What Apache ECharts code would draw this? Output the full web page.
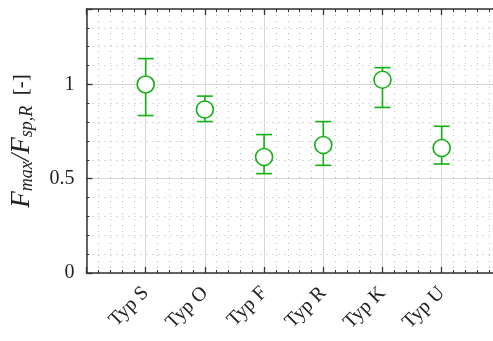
<!DOCTYPE html>
<html>
<head>
<meta charset="utf-8">
<script src="https://cdn.jsdelivr.net/npm/echarts@6/dist/echarts.min.js"></script>
<style>
html, body { margin: 0; padding: 0; background: #fff; overflow: hidden; width: 493px; height: 341px; }
#chart { width: 503px; height: 341px; }
</style>
</head>
<body>
<div id="chart"></div>
<script>
// Werte
var categories = ['Typ S', 'Typ O', 'Typ F', 'Typ R', 'Typ K', 'Typ U'];
var meanValues = [1.00, 0.867, 0.615, 0.679, 1.025, 0.663];
var lowerValues = [0.835, 0.803, 0.527, 0.571, 0.878, 0.578];
var upperValues = [1.137, 0.938, 0.734, 0.803, 1.089, 0.778];
var yTicks = [0, 0.5, 1];

var green = '#12b012';
var serif = '"Liberation Serif", "DejaVu Serif", serif';

var data = categories.map(function (c, i) {
    return [i + 1, meanValues[i], lowerValues[i], upperValues[i]];
});

var myChart = echarts.init(document.getElementById('chart'));

function renderErrorBar(params, api) {
    var x = api.value(0);
    var c = api.coord([x, api.value(1)]);
    var lo = api.coord([x, api.value(2)]);
    var hi = api.coord([x, api.value(3)]);
    var cap = 8;
    var r = 8.5;
    var st = { stroke: green, lineWidth: 1.6, fill: null };
    return {
        type: 'group',
        children: [
            { type: 'line', shape: { x1: c[0], y1: hi[1], x2: c[0], y2: lo[1] }, style: st },
            { type: 'line', shape: { x1: c[0] - cap, y1: hi[1], x2: c[0] + cap, y2: hi[1] }, style: st },
            { type: 'line', shape: { x1: c[0] - cap, y1: lo[1], x2: c[0] + cap, y2: lo[1] }, style: st },
            { type: 'circle', shape: { cx: c[0], cy: c[1], r: r }, style: { stroke: green, lineWidth: 1.6, fill: '#fff' } }
        ]
    };
}

var axisCommon = {
    type: 'value',
    min: 0,
    max: 7,
    interval: 1,
    axisLine: { show: true, lineStyle: { color: '#333', width: 1.5 } },
    axisTick: { show: true, inside: true, length: 6, lineStyle: { color: '#333', width: 1.3 } },
    minorTick: { show: true, splitNumber: 5, length: 3, lineStyle: { color: '#333', width: 1 } }
};

option = {
    animation: false,
    grid: { left: 85, right: 0, top: 9, bottom: 68 },
    xAxis: [
        Object.assign({}, axisCommon, {
            position: 'bottom',
            axisLabel: {
                rotate: 45,
                fontFamily: serif,
                fontSize: 20,
                color: '#222',
                margin: 17,
                formatter: function (v) {
                    return categories[v - 1] || '';
                }
            },
            splitLine: { show: true, lineStyle: { color: '#d8d8d8', width: 1 } },
            minorSplitLine: { show: true, lineStyle: { color: '#b8b8b8', width: 1, type: [1, 5] } }
        }),
        Object.assign({}, axisCommon, {
            position: 'top',
            axisLabel: { show: false },
            splitLine: { show: false }
        })
    ],
    yAxis: [{
        type: 'value',
        min: 0,
        max: 1.4,
        interval: 0.5,
        name: '{f|F}{s|max}{f|/F}{s|sp,R}{b|  [-]}',
        nameLocation: 'middle',
        nameRotate: 90,
        nameGap: 50,
        nameTextStyle: {
            rich: {
                f: { fontFamily: serif, fontStyle: 'italic', fontSize: 27, color: '#222', lineHeight: 30 },
                s: { fontFamily: serif, fontStyle: 'italic', fontSize: 18, color: '#222', verticalAlign: 'bottom', lineHeight: 22 },
                b: { fontFamily: serif, fontSize: 21, color: '#222', lineHeight: 30 }
            }
        },
        axisLine: { show: true, lineStyle: { color: '#333', width: 1.5 } },
        axisTick: { show: true, inside: true, length: 6, lineStyle: { color: '#333', width: 1.3 } },
        minorTick: { show: true, splitNumber: 5, length: 3, lineStyle: { color: '#333', width: 1 } },
        axisLabel: {
            fontFamily: serif,
            fontSize: 20,
            color: '#222',
            margin: 12,
            formatter: function (v) {
                return yTicks.indexOf(v) >= 0 ? String(v) : '';
            }
        },
        splitLine: { show: true, lineStyle: { color: '#d8d8d8', width: 1 } },
        minorSplitLine: { show: true, lineStyle: { color: '#b8b8b8', width: 1, type: [1, 5] } }
    }],
    series: [{
        type: 'custom',
        renderItem: renderErrorBar,
        encode: { x: 0, y: [1, 2, 3] },
        data: data,
        z: 10
    }]
};
myChart.setOption(option);
</script>
</body>
</html>
